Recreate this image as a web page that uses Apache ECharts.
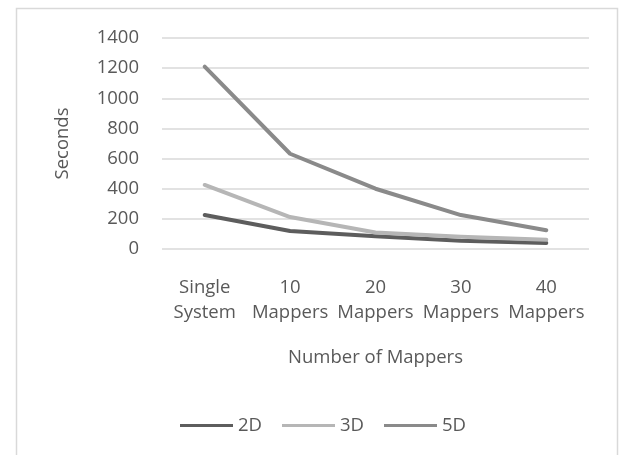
<!DOCTYPE html>
<html>
<head>
<meta charset="utf-8">
<script src="https://cdn.jsdelivr.net/npm/echarts@6/dist/echarts.min.js"></script>
<style>
html,body{margin:0;padding:0;background:#fff;}
#chart{width:621px;height:455px;}
</style>
</head>
<body>
<div id="chart"></div>
<script>
var categories = ['Single\nSystem', '10\nMappers', '20\nMappers', '30\nMappers', '40\nMappers'];
var series2D = [225, 120, 85, 55, 40];
var series3D = [425, 212, 110, 82, 62];
var series5D = [1210, 632, 400, 225, 125];
var yTicks = [0, 200, 400, 600, 800, 1000, 1200, 1400];

var FONT = 'Open Sans';
var TXT = '#595959';
var FS = 18.5;
var chart = echarts.init(document.getElementById('chart'), null, {renderer: 'canvas'});
chart.setOption({
  animation: false,
  backgroundColor: '#ffffff',
  textStyle: {fontFamily: FONT},
  graphic: [{
    type: 'rect',
    shape: {x: 16.5, y: 8.5, width: 601, height: 470},
    style: {fill: 'none', stroke: '#d9d9d9', lineWidth: 1.5},
    silent: true
  }],
  grid: {left: 162, right: 32, top: 38, bottom: 206, containLabel: false},
  legend: {
    bottom: 15,
    left: 175,
    icon: 'rect',
    itemWidth: 53,
    itemHeight: 3,
    itemGap: 20,
    textStyle: {fontFamily: FONT, fontSize: FS, color: TXT},
    data: ['2D', '3D', '5D']
  },
  xAxis: {
    type: 'category',
    data: categories,
    boundaryGap: true,
    name: 'Number of Mappers',
    nameLocation: 'middle',
    nameGap: 99,
    nameTextStyle: {fontFamily: FONT, fontSize: FS, color: TXT},
    axisLine: {show: false},
    axisTick: {show: false},
    axisLabel: {fontFamily: FONT, fontSize: FS, color: TXT, margin: 26, lineHeight: 25, interval: 0}
  },
  yAxis: {
    type: 'value',
    min: yTicks[0],
    max: yTicks[yTicks.length - 1],
    interval: 200,
    name: 'Seconds',
    nameLocation: 'middle',
    nameGap: 90,
    nameRotate: 90,
    nameTextStyle: {fontFamily: FONT, fontSize: FS, color: TXT},
    axisLine: {show: false},
    axisTick: {show: false},
    axisLabel: {fontFamily: FONT, fontSize: FS, color: TXT, margin: 23, formatter: function (v) { return String(v); }},
    splitLine: {lineStyle: {color: '#d9d9d9', width: 1.5}}
  },
  series: [
    {name: '2D', type: 'line', data: series2D, symbol: 'none', color: '#5d5d5d', lineStyle: {width: 4, color: '#5d5d5d', cap: 'round', join: 'round'}},
    {name: '3D', type: 'line', data: series3D, symbol: 'none', color: '#b6b6b6', lineStyle: {width: 4, color: '#b6b6b6', cap: 'round', join: 'round'}},
    {name: '5D', type: 'line', data: series5D, symbol: 'none', color: '#8a8a8a', lineStyle: {width: 4, color: '#8a8a8a', cap: 'round', join: 'round'}}
  ]
});
</script>
</body>
</html>
